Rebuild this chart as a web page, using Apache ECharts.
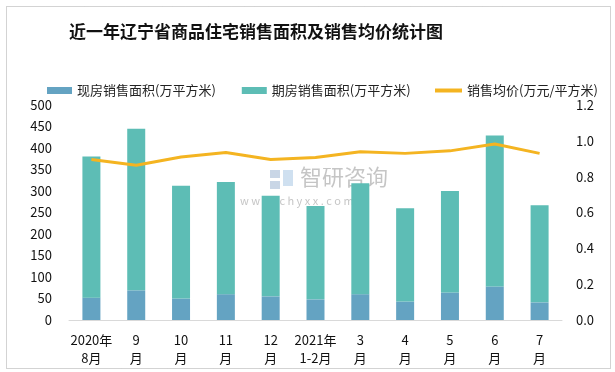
<!DOCTYPE html>
<html><head><meta charset="utf-8">
<script src="https://cdn.jsdelivr.net/npm/echarts@6/dist/echarts.min.js"></script>
<style>html,body{margin:0;padding:0;background:#fff}#c{width:615px;height:372px}</style>
</head><body><div id="c"></div>
<script>
const categories = ['2020年\n8月','9\n月','10\n月','11\n月','12\n月','2021年\n1-2月','3\n月','4\n月','5\n月','6\n月','7\n月'];
const spotArea = [52, 69, 50, 60, 55, 48, 60, 43, 64, 78, 41];
const presaleArea = [328, 376, 262, 261, 234, 217, 258, 217, 236, 351, 226];
const avgPrice = [0.896, 0.864, 0.91, 0.935, 0.896, 0.907, 0.939, 0.93, 0.944, 0.982, 0.93];
const leftTicks = {min: 0, max: 500, interval: 50};
const rightTicks = {min: 0, max: 1.2, interval: 0.2};

const font = '"Noto Sans CJK SC", "Microsoft YaHei", sans-serif';
const chart = echarts.init(document.getElementById('c'));
chart.setOption({
  animation: false,
  textStyle: {fontFamily: font},
  title: {
    text: '近一年辽宁省商品住宅销售面积及销售均价统计图',
    left: 64, top: 18,
    textStyle: {fontSize: 17, fontWeight: 'bold', color: '#111', fontFamily: font}
  },
  graphic: [
    {type: 'rect', shape: {x: 6.5, y: 6.5, width: 604, height: 362}, style: {fill: 'none', stroke: '#a6a6a6', lineWidth: 1, lineDash: [1, 1]}, silent: true},
    {type: 'rect', shape: {x: 270, y: 170, width: 10, height: 8}, style: {fill: '#c9d6e6'}, silent: true, z: 0},
    {type: 'rect', shape: {x: 283, y: 170, width: 10, height: 16}, style: {fill: '#cfe0f0'}, silent: true, z: 0},
    {type: 'rect', shape: {x: 270, y: 181, width: 10, height: 8}, style: {fill: '#c9d6e6'}, silent: true, z: 0},
    {type: 'text', left: 300, top: 166, style: {text: '智研咨询', fontSize: 22, fill: 'rgba(150,150,150,0.55)', fontFamily: font, letterSpacing: 4}, silent: true, z: 0},
    {type: 'text', left: 240, top: 195, style: {text: 'w w w . c h y x x . c o m', fontSize: 11, fill: 'rgba(150,150,150,0.55)', fontFamily: font}, silent: true, z: 0}
  ],
  legend: [{
    left: 42, top: 79,
    itemWidth: 25, itemHeight: 7, itemGap: 26,
    textStyle: {fontSize: 13, color: '#222', fontFamily: font},
    data: [
      {name: '现房销售面积(万平方米)', icon: 'rect'},
      {name: '期房销售面积(万平方米)', icon: 'rect'}
    ]
  }, {
    left: 430, top: 79,
    itemWidth: 27, itemHeight: 4,
    textStyle: {fontSize: 13, color: '#222', fontFamily: font},
    data: [{name: '销售均价(万元/平方米)', icon: 'rect'}]
  }],
  grid: {left: 69, right: 53, top: 105, bottom: 52, containLabel: false},
  xAxis: {
    type: 'category', data: categories,
    axisLine: {lineStyle: {color: '#d9d9d9', width: 1}},
    axisTick: {show: false},
    axisLabel: {color: '#111', fontSize: 13, lineHeight: 18, margin: 11, interval: 0, fontFamily: font}
  },
  yAxis: [
    {type: 'value', min: leftTicks.min, max: leftTicks.max, interval: leftTicks.interval,
     splitLine: {show: false}, axisLine: {show: false}, axisTick: {show: false},
     axisLabel: {color: '#111', fontSize: 13, margin: 17, fontFamily: font}},
    {type: 'value', min: rightTicks.min, max: rightTicks.max, interval: rightTicks.interval,
     splitLine: {show: false}, axisLine: {show: false}, axisTick: {show: false},
     axisLabel: {color: '#111', fontSize: 13, margin: 14, fontFamily: font, formatter: v => v.toFixed(1)}}
  ],
  series: [
    {name: '现房销售面积(万平方米)', type: 'bar', stack: 'a', data: spotArea, barWidth: 18,
     itemStyle: {color: '#64a3c2'}},
    {name: '期房销售面积(万平方米)', type: 'bar', stack: 'a', data: presaleArea, barWidth: 18,
     itemStyle: {color: '#5dbdb5'}},
    {name: '销售均价(万元/平方米)', type: 'line', yAxisIndex: 1, data: avgPrice,
     symbol: 'none', lineStyle: {color: '#f4b421', width: 3}, itemStyle: {color: '#f4b421'}, z: 5}
  ]
});
</script>
</body></html>
